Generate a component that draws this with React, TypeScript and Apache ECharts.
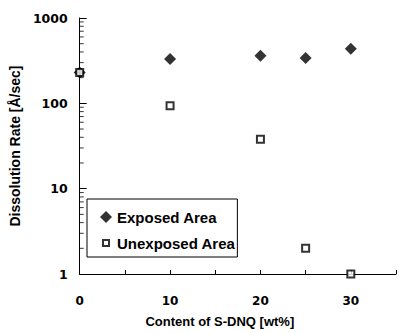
import React, { useEffect, useRef } from "react";
import * as echarts from "echarts";

const contentX = [0, 10, 20, 25, 30];
const exposed = [230, 330, 360, 340, 435];
const unexposedX = [0, 10, 20, 25, 30];
const unexposed = [230, 94, 38, 2, 1];
const minorTickValues = [2, 3, 4, 5, 6, 7, 8, 9, 20, 30, 40, 50, 60, 70, 80, 90, 200, 300, 400, 500, 600, 700, 800, 900];

export default function App() {
  const ref = useRef<HTMLDivElement>(null);
  useEffect(() => {
    const chart = echarts.init(ref.current!, null, { renderer: "svg" });
    const font = "'Liberation Sans', Arial, sans-serif";
    const tickFont = "'DejaVu Sans', sans-serif";
    chart.setOption({
      animation: false,
      backgroundColor: "#fff",
      grid: { left: 72, top: 18, right: 3, bottom: 58, containLabel: false },
      xAxis: {
        type: "value",
        min: 0,
        max: 35,
        interval: 5,
        name: "Content of S-DNQ [wt%]",
        nameLocation: "middle",
        nameGap: 41,
        nameTextStyle: {
          color: "#000",
          fontFamily: font,
          fontWeight: "bold",
          fontSize: 13,
          padding: [0, 36, 0, 0],
        },
        axisLine: { show: true, lineStyle: { color: "#000", width: 1 } },
        axisTick: { show: true, inside: true, length: 4, lineStyle: { color: "#000", width: 1 } },
        axisLabel: {
          color: "#000",
          fontFamily: tickFont,
          fontWeight: "bold",
          fontSize: 12,
          margin: 21,
          formatter: (v: number) => (v % 10 === 0 && v < 35 ? String(v) : ""),
        },
        splitLine: { show: false },
      },
      yAxis: {
        type: "log",
        logBase: 10,
        min: 1,
        max: 1000,
        name: "Dissolution Rate [Å/sec]",
        nameLocation: "middle",
        nameGap: 55,
        nameTextStyle: { color: "#000", fontFamily: font, fontWeight: "bold", fontSize: 14 },
        axisLine: { show: true, lineStyle: { color: "#000", width: 1 } },
        axisTick: { show: true, inside: true, length: 7, lineStyle: { color: "#000", width: 1 } },
        axisLabel: {
          color: "#000",
          fontFamily: tickFont,
          fontWeight: "bold",
          fontSize: 12.5,
          margin: 12,
          formatter: (v: number) => String(Math.round(v)),
        },
        splitLine: { show: false },
      },
      legend: {
        left: 87,
        top: 199,
        orient: "vertical",
        borderColor: "#000",
        borderWidth: 1,
        padding: [10, 2, 6, 12],
        itemGap: 10,
        itemWidth: 12,
        itemHeight: 12,
        textStyle: { color: "#000", fontFamily: font, fontWeight: "bold", fontSize: 15, lineHeight: 16 },
        data: [
          { name: "Exposed Area", icon: "diamond", itemStyle: { color: "#000" } },
          {
            name: "Unexposed Area",
            icon: "path://M0,0M3,3h6v6h-6zM12,12",
            itemStyle: { color: "#fff", borderColor: "#000", borderWidth: 2 },
          },
        ],
      },
      series: [
        {
          name: "minor",
          type: "scatter",
          silent: true,
          clip: false,
          symbol: "rect",
          symbolSize: [4, 1],
          symbolOffset: [2, 0],
          itemStyle: { color: "#000" },
          data: minorTickValues.map((v) => [0, v]),
          z: 1,
        },
        {
          name: "Exposed Area",
          type: "scatter",
          symbol: "diamond",
          symbolSize: 12,
          clip: false,
          itemStyle: { color: "#000" },
          data: contentX.map((x, i) => [x, exposed[i]]),
          z: 2,
        },
        {
          name: "Unexposed Area",
          type: "scatter",
          symbol: "rect",
          symbolSize: 7,
          clip: false,
          itemStyle: { color: "#fff", borderColor: "#000", borderWidth: 2 },
          data: unexposedX.map((x, i) => [x, unexposed[i]]),
          z: 3,
        },
      ],
    });
    return () => chart.dispose();
  }, []);
  return <div ref={ref} style={{ width: 399, height: 333, position: "absolute", left: 0, top: 0 }} />;
}
